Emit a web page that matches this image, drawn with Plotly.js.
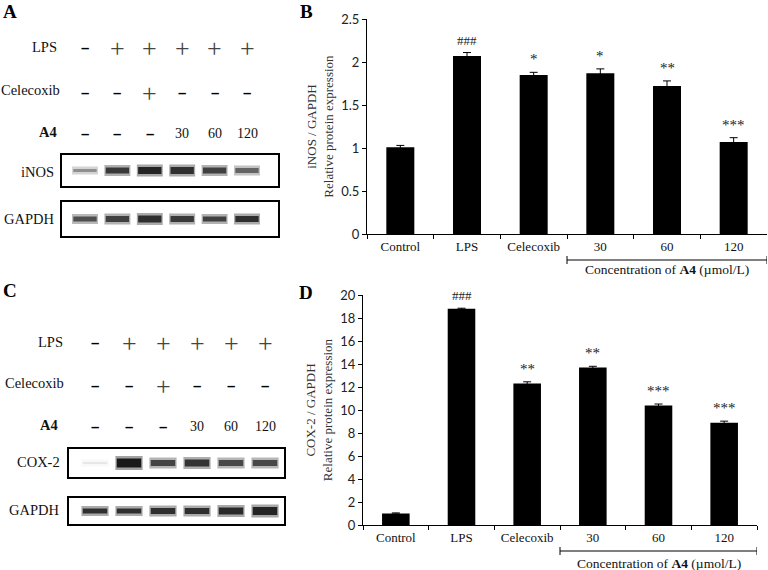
<!DOCTYPE html>
<html><head><meta charset="utf-8">
<script src="https://cdn.plot.ly/plotly-3.0.1.min.js"></script>
<style>html,body{margin:0;padding:0;background:#fff}</style>
</head><body><div id="chart" style="width:768px;height:570px"></div>
<script>
// ---- data ----
const groups = ['Control', 'LPS', 'Celecoxib', '30', '60', '120'];
const inosRatio = [1.01, 2.07, 1.85, 1.87, 1.72, 1.07];
const inosErr = [0.02, 0.04, 0.03, 0.05, 0.06, 0.05];
const inosSig = ['', '###', '*', '*', '**', '***'];
const coxRatio = [1.0, 18.8, 12.3, 13.7, 10.4, 8.9];
const coxErr = [0.05, 0.05, 0.15, 0.1, 0.12, 0.13];
const coxSig = ['', '###', '**', '**', '***', '***'];
const lanes = [0, 1, 2, 3, 4, 5];
const lpsRow = ['−', '+', '+', '+', '+', '+'];
const celecoxibRow = ['−', '−', '+', '−', '−', '−'];
const a4Row = ['−', '−', '−', '30', '60', '120'];
// blot band intensity (0..1) and thickness (px)
const inosBand = [0.45, 0.85, 0.95, 0.9, 0.82, 0.65];
const inosBandPx = [3, 6, 7, 7, 6, 5];
const gapdhABand = [0.75, 0.82, 0.9, 0.85, 0.82, 0.9];
const gapdhABandPx = [5, 6, 7, 6, 5, 6];
const coxBand = [0.04, 1.0, 0.8, 0.88, 0.78, 0.78];
const coxBandPx = [2, 9, 6, 7, 6, 6];
const gapdhCBand = [0.9, 0.9, 0.9, 0.9, 0.92, 0.95];
const gapdhCBandPx = [5, 5, 6, 6, 7, 8];

// ---- helpers ----
const W = 768, H = 570;
const px = x => x / W;
const py = y => 1 - y / H;
const SERIF = 'Liberation Serif, Times New Roman, serif';
const SANS = 'Lato, Liberation Sans, sans-serif';

function grey(v) { v = Math.max(0, Math.min(255, Math.round(v))); return `rgb(${v},${v},${v})`; }

function bandTraces(intens, thick, xa, ya) {
  return [
    { type: 'bar', x: lanes, y: thick.map(t => t + 5), base: thick.map(t => -(t + 5) / 2), width: 0.8,
      marker: { color: intens.map(i => grey(252 - 90 * i)), line: { width: 0 } },
      xaxis: xa, yaxis: ya, hoverinfo: 'skip', showlegend: false },
    { type: 'bar', x: lanes, y: thick, base: thick.map(t => -t / 2), width: 0.72,
      marker: { color: intens.map(i => grey(240 - 215 * i)), line: { width: 0 } },
      xaxis: xa, yaxis: ya, hoverinfo: 'skip', showlegend: false }
  ];
}

const traces = [
  { type: 'bar', x: groups, y: inosRatio, width: 0.42, marker: { color: '#000', line: { width: 0 } },
    error_y: { type: 'data', array: inosErr, color: '#000', thickness: 1, width: 4 },
    xaxis: 'x', yaxis: 'y', showlegend: false },
  { type: 'bar', x: groups, y: coxRatio, width: 0.42, marker: { color: '#000', line: { width: 0 } },
    error_y: { type: 'data', array: coxErr, color: '#000', thickness: 1, width: 4 },
    xaxis: 'x2', yaxis: 'y2', showlegend: false },
  ...bandTraces(inosBand, inosBandPx, 'x3', 'y3'),
  ...bandTraces(gapdhABand, gapdhABandPx, 'x3', 'y4'),
  ...bandTraces(coxBand, coxBandPx, 'x5', 'y5'),
  ...bandTraces(gapdhCBand, gapdhCBandPx, 'x5', 'y6')
];

const annotations = [];
const shapes = [];

// panel letters
[['A', 10, 12], ['B', 306, 12], ['C', 10, 290], ['D', 306, 292]].forEach(([t, x, y]) => {
  annotations.push({ text: '<b>' + t + '</b>', xref: 'paper', yref: 'paper', x: px(x), y: py(y),
    xanchor: 'center', yanchor: 'middle', showarrow: false, font: { family: SERIF, size: 19, color: '#000' } });
});

function rowLabel(text, xr, y, bold) {
  annotations.push({ text: bold ? '<b>' + text + '</b>' : text, xref: 'paper', yref: 'paper', x: px(xr), y: py(y),
    xanchor: 'right', yanchor: 'middle', showarrow: false, font: { family: SERIF, size: 14.5, color: '#111' } });
}
function rowSymbols(row, xa, y) {
  row.forEach((s, i) => {
    let font, text = s, yy = y;
    if (s === '+') { font = { family: SERIF, size: 26, color: '#444' }; yy = y + 1; }
    else if (s === '−') { font = { family: 'Liberation Sans, sans-serif', size: 15, color: '#000' }; text = '<b>–</b>'; }
    else font = { family: SERIF, size: 14, color: '#111' };
    annotations.push({ text, xref: xa, yref: 'paper', x: lanes[i], y: py(yy),
      xanchor: 'center', yanchor: 'middle', showarrow: false, font });
  });
}

// Panel A
rowLabel('LPS', 59, 47); rowSymbols(lpsRow, 'x3', 47);
rowLabel('Celecoxib', 62, 90); rowSymbols(celecoxibRow, 'x3', 92);
rowLabel('A4', 59, 132, true); rowSymbols(a4Row, 'x3', 133);
rowLabel('iNOS', 56, 172); rowLabel('GAPDH', 56, 219);
shapes.push({ type: 'rect', xref: 'paper', yref: 'paper', x0: px(61), x1: px(279), y0: py(154), y1: py(187), line: { color: '#000', width: 2 } });
shapes.push({ type: 'rect', xref: 'paper', yref: 'paper', x0: px(61), x1: px(279), y0: py(201), y1: py(237), line: { color: '#000', width: 2 } });

// Panel C
rowLabel('LPS', 65, 342); rowSymbols(lpsRow, 'x5', 342);
rowLabel('Celecoxib', 66, 383); rowSymbols(celecoxibRow, 'x5', 385);
rowLabel('A4', 60, 425, true); rowSymbols(a4Row, 'x5', 426);
rowLabel('COX-2', 62, 462); rowLabel('GAPDH', 61, 510);
shapes.push({ type: 'rect', xref: 'paper', yref: 'paper', x0: px(68), x1: px(285), y0: py(448), y1: py(478), line: { color: '#000', width: 2 } });
shapes.push({ type: 'rect', xref: 'paper', yref: 'paper', x0: px(68), x1: px(285), y0: py(497), y1: py(525), line: { color: '#000', width: 2 } });

// significance marks
function sigMarks(sig, vals, errs, xa, ya) {
  sig.forEach((s, i) => {
    if (!s) return;
    annotations.push({ text: s, xref: xa, yref: ya, x: i, y: vals[i] + errs[i], xanchor: 'center', yanchor: 'bottom',
      yshift: 3, showarrow: false,
      font: { family: SERIF, size: s[0] === '#' ? 13 : 15, color: '#222' } });
  });
}
sigMarks(inosSig, inosRatio, inosErr, 'x', 'y');
sigMarks(coxSig, coxRatio, coxErr, 'x2', 'y2');

// concentration brackets
function bracket(xa, y, ty) {
  shapes.push({ type: 'line', xref: xa, yref: 'paper', x0: 2.5, x1: 5.5, y0: py(y), y1: py(y), line: { color: '#000', width: 1 } });
  [2.5, 5.5].forEach(x => shapes.push({ type: 'line', xref: xa, yref: 'paper', x0: x, x1: x, y0: py(y - 4), y1: py(y + 4), line: { color: '#000', width: 1 } }));
  annotations.push({ text: 'Concentration of <b>A4</b> (µmol/L)', xref: xa, yref: 'paper', x: 4, y: py(ty),
    xanchor: 'center', yanchor: 'middle', showarrow: false, font: { family: SERIF, size: 13.5, color: '#111' } });
}
bracket('x', 260, 269);
bracket('x2', 551, 563);

const axisCommon = {
  showline: true, linecolor: '#000', linewidth: 1, ticks: 'outside', ticklen: 4, tickcolor: '#000',
  showgrid: false, zeroline: false, fixedrange: true
};
const xCat = Object.assign({}, axisCommon, {
  type: 'category', categoryorder: 'array', categoryarray: groups, range: [-0.5, 5.5], tickson: 'boundaries',
  tickfont: { family: SERIF, size: 13, color: '#111' }
});
const hidden = { visible: false, fixedrange: true, showgrid: false, zeroline: false };

const layout = {
  width: W, height: H, margin: { l: 0, r: 0, t: 0, b: 0 }, paper_bgcolor: '#fff', plot_bgcolor: 'rgba(0,0,0,0)',
  barmode: 'overlay', showlegend: false,
  xaxis: Object.assign({}, xCat, { domain: [px(367), px(767)], anchor: 'y' }),
  yaxis: Object.assign({}, axisCommon, { domain: [py(234), py(19)], range: [0, 2.5], dtick: 0.5, anchor: 'x',
    tickfont: { family: SANS, size: 13, color: '#222' },
    title: { text: 'iNOS / GAPDH<br>Relative protein expression', font: { family: SERIF, size: 13, color: '#333' }, standoff: 4 } }),
  xaxis2: Object.assign({}, xCat, { domain: [px(363), px(757)], anchor: 'y2' }),
  yaxis2: Object.assign({}, axisCommon, { domain: [py(525), py(295)], range: [0, 20], dtick: 2, anchor: 'x2',
    tickfont: { family: SANS, size: 13, color: '#222' },
    title: { text: 'COX-2 / GAPDH<br>Relative protein expression', font: { family: SERIF, size: 13, color: '#333' }, standoff: 4 } }),
  xaxis3: Object.assign({}, hidden, { domain: [px(68.8), px(263.2)], range: [-0.5, 5.5], anchor: 'y3' }),
  yaxis3: Object.assign({}, hidden, { domain: [py(187), py(154)], range: [-16.5, 16.5], anchor: 'x3' }),
  yaxis4: Object.assign({}, hidden, { domain: [py(237), py(201)], range: [-18, 18], anchor: 'x3' }),
  xaxis5: Object.assign({}, hidden, { domain: [px(78), px(282)], range: [-0.5, 5.5], anchor: 'y5' }),
  yaxis5: Object.assign({}, hidden, { domain: [py(478), py(448)], range: [-15, 15], anchor: 'x5' }),
  yaxis6: Object.assign({}, hidden, { domain: [py(525), py(497)], range: [-14, 14], anchor: 'x5' }),
  annotations, shapes
};

Plotly.newPlot('chart', traces, layout, { staticPlot: true, displayModeBar: false });
</script></body></html>
